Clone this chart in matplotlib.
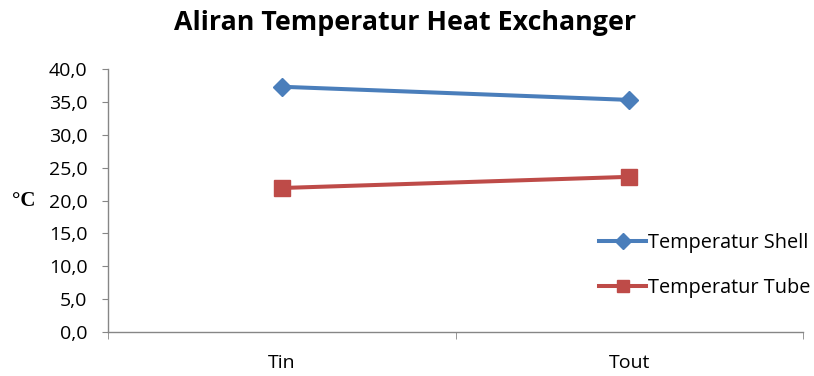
import matplotlib
matplotlib.use("Agg")
import matplotlib.pyplot as plt
from matplotlib.ticker import FuncFormatter, FixedLocator

categories = ["Tin", "Tout"]
shell = [37.3, 35.3]
tube = [21.9, 23.6]
series_labels = ["Temperatur Shell", "Temperatur Tube"]

plt.rcParams['font.family'] = ['Open Sans', 'DejaVu Sans']

fig = plt.figure(figsize=(8.14, 3.76), dpi=100)
ax = fig.add_axes([108/814, 44/376, (803-108)/814, (332-69)/376])

x = list(range(len(categories)))
ax.plot(x, shell, color="#4A7EBB", lw=2.9, marker="D", markersize=9, label=series_labels[0])
ax.plot(x, tube, color="#BE4B48", lw=2.9, marker="s", markersize=11, label=series_labels[1])

ax.set_xlim(-0.5, len(categories) - 0.5)
ax.set_ylim(0, 40)
ax.set_yticks([0, 5, 10, 15, 20, 25, 30, 35, 40])
ax.yaxis.set_major_formatter(FuncFormatter(lambda v, p: f"{v:.1f}".replace(".", ",")))
ax.set_xticks(x)
ax.set_xticklabels(categories)
ax.xaxis.set_minor_locator(FixedLocator([-0.5, 0.5, 1.5]))
ax.tick_params(axis="x", which="major", length=0, pad=16, labelsize=14, colors="black")
ax.tick_params(axis="x", which="minor", length=5, color="#868686", direction="out")
ax.tick_params(axis="y", length=4.3, color="#868686", labelsize=14, pad=10.5)

for s in ["top", "right"]:
    ax.spines[s].set_visible(False)
for s in ["left", "bottom"]:
    ax.spines[s].set_color("#868686")
    ax.spines[s].set_linewidth(1)

fig.text(405/814, 1 - 23/376, "Aliran Temperatur Heat Exchanger", ha="center", va="center",
         fontsize=19.3, fontweight="bold")
fig.text(24/814, 1 - 201/376, "°C", ha="center", va="center", fontsize=15,
         fontweight="bold", family=["Liberation Serif", "DejaVu Serif"])

leg = ax.legend(loc="upper left", bbox_to_anchor=(599/814, 1 - 233/376), bbox_transform=fig.transFigure,
                frameon=False, fontsize=14.3, handlelength=2.37, handletextpad=0.1,
                labelspacing=1.28, borderpad=0, borderaxespad=0, markerscale=0.85)

fig.savefig("out.png", dpi=100)
